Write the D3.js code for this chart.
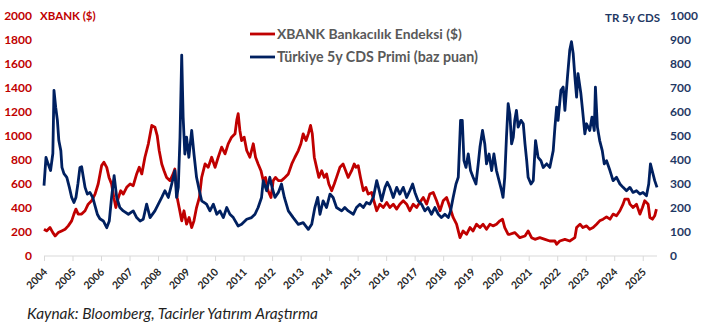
<!DOCTYPE html>
<html lang="tr">
<head>
<meta charset="utf-8">
<script src="https://cdn.jsdelivr.net/npm/d3@7"></script>
<style>
  body { margin: 0; background: #fff; }
  svg { display: block; }
</style>
</head>
<body>
<svg id="chart" width="701" height="330"></svg>
<script>
// XBANK banking index in USD (left axis), dates as decimal years
const xbankDates = [
  2004.00, 2004.09, 2004.21, 2004.31, 2004.39, 2004.50, 2004.62, 2004.74, 2004.85, 2004.97,
  2005.05, 2005.12, 2005.20, 2005.32, 2005.44, 2005.55, 2005.67, 2005.79, 2005.90, 2006.02,
  2006.10, 2006.20, 2006.28, 2006.37, 2006.45, 2006.52, 2006.61, 2006.69, 2006.78, 2006.90,
  2007.02, 2007.13, 2007.25, 2007.34, 2007.43, 2007.54, 2007.66, 2007.78, 2007.89, 2007.97,
  2008.04, 2008.13, 2008.21, 2008.30, 2008.42, 2008.53, 2008.59, 2008.67, 2008.74, 2008.83,
  2008.91, 2009.00, 2009.09, 2009.18, 2009.26, 2009.35, 2009.45, 2009.53, 2009.65, 2009.76,
  2009.88, 2010.00, 2010.11, 2010.23, 2010.35, 2010.46, 2010.58, 2010.70, 2010.76, 2010.81,
  2010.87, 2010.93, 2011.02, 2011.11, 2011.22, 2011.34, 2011.42, 2011.51, 2011.61, 2011.69,
  2011.77, 2011.86, 2011.96, 2012.04, 2012.12, 2012.22, 2012.33, 2012.45, 2012.57, 2012.69,
  2012.80, 2012.92, 2013.01, 2013.09, 2013.19, 2013.27, 2013.35, 2013.41, 2013.48, 2013.56,
  2013.64, 2013.74, 2013.83, 2013.91, 2013.99, 2014.09, 2014.18, 2014.26, 2014.38, 2014.49,
  2014.58, 2014.67, 2014.79, 2014.88, 2014.94, 2015.02, 2015.10, 2015.20, 2015.29, 2015.37,
  2015.49, 2015.57, 2015.67, 2015.78, 2015.90, 2016.02, 2016.13, 2016.25, 2016.37, 2016.48,
  2016.60, 2016.72, 2016.83, 2016.95, 2017.07, 2017.18, 2017.30, 2017.42, 2017.53, 2017.65,
  2017.77, 2017.89, 2018.00, 2018.12, 2018.24, 2018.35, 2018.47, 2018.59, 2018.70, 2018.82,
  2018.94, 2019.05, 2019.17, 2019.29, 2019.40, 2019.52, 2019.64, 2019.75, 2019.87, 2019.99,
  2020.08, 2020.16, 2020.28, 2020.34, 2020.51, 2020.69, 2020.87, 2020.98, 2021.10, 2021.22,
  2021.39, 2021.57, 2021.74, 2021.92, 2021.98, 2022.09, 2022.27, 2022.44, 2022.62, 2022.68,
  2022.80, 2022.90, 2023.03, 2023.14, 2023.26, 2023.38, 2023.49, 2023.61, 2023.73, 2023.85,
  2023.96, 2024.08, 2024.20, 2024.31, 2024.37, 2024.49, 2024.55, 2024.66, 2024.78, 2024.90,
  2024.99, 2025.07, 2025.19, 2025.25, 2025.34, 2025.42, 2025.48
];
const xbankValues = [
  223, 209, 237, 195, 167, 195, 209, 223, 251, 293,
  349, 391, 349, 349, 377, 432, 460, 516, 600, 753,
  781, 739, 655, 600, 488, 404, 488, 544, 516, 572,
  600, 586, 684, 739, 684, 823, 935, 1088, 1074, 1004,
  879, 767, 711, 655, 628, 684, 725, 488, 404, 293,
  377, 265, 321, 237, 293, 404, 488, 655, 767, 739,
  823, 739, 823, 907, 851, 935, 990, 1018, 1130, 1186,
  1046, 962, 990, 879, 823, 935, 823, 767, 711, 628,
  655, 544, 488, 628, 655, 628, 628, 655, 684, 767,
  823, 879, 935, 1018, 962, 1018, 1088, 1018, 823, 739,
  655, 711, 655, 684, 600, 544, 600, 655, 739, 767,
  711, 655, 711, 767, 739, 753, 655, 544, 572, 516,
  530, 460, 377, 432, 404, 446, 404, 432, 391, 432,
  460, 432, 377, 432, 404, 446, 488, 432, 516, 530,
  460, 377, 460, 488, 404, 321, 265, 153, 209, 181,
  237, 209, 265, 237, 265, 223, 265, 251, 265, 293,
  307, 237, 181, 181, 195, 153, 167, 209, 153, 139,
  153, 139, 125, 125, 98, 125, 139, 125, 153, 237,
  265, 237, 251, 223, 237, 265, 293, 307, 326, 307,
  349, 335, 377, 432, 474, 474, 432, 404, 432, 349,
  404, 460, 432, 321, 307, 335, 391
];

// Turkey 5y CDS premium in basis points (right axis)
const cdsDates = [
  2004.00, 2004.07, 2004.14, 2004.23, 2004.31, 2004.35, 2004.41, 2004.47, 2004.52, 2004.59,
  2004.63, 2004.70, 2004.80, 2004.89, 2004.97, 2005.05, 2005.12, 2005.19, 2005.26, 2005.32,
  2005.38, 2005.44, 2005.52, 2005.61, 2005.71, 2005.79, 2005.87, 2005.96, 2006.08, 2006.20,
  2006.29, 2006.37, 2006.46, 2006.55, 2006.66, 2006.78, 2006.96, 2007.13, 2007.25, 2007.37,
  2007.48, 2007.60, 2007.72, 2007.89, 2008.01, 2008.13, 2008.24, 2008.36, 2008.48, 2008.59,
  2008.65, 2008.71, 2008.77, 2008.83, 2008.88, 2008.94, 2009.00, 2009.08, 2009.18, 2009.26,
  2009.35, 2009.45, 2009.53, 2009.70, 2009.82, 2009.94, 2010.06, 2010.17, 2010.29, 2010.41,
  2010.52, 2010.64, 2010.81, 2010.93, 2011.11, 2011.28, 2011.40, 2011.51, 2011.63, 2011.69,
  2011.81, 2011.92, 2012.00, 2012.10, 2012.22, 2012.33, 2012.43, 2012.57, 2012.74, 2012.92,
  2013.09, 2013.27, 2013.39, 2013.50, 2013.60, 2013.68, 2013.79, 2013.91, 2014.03, 2014.14,
  2014.26, 2014.44, 2014.55, 2014.67, 2014.85, 2014.96, 2015.08, 2015.20, 2015.31, 2015.43,
  2015.55, 2015.67, 2015.76, 2015.84, 2015.96, 2016.04, 2016.13, 2016.25, 2016.37, 2016.48,
  2016.60, 2016.72, 2016.83, 2016.93, 2017.01, 2017.12, 2017.24, 2017.36, 2017.47, 2017.59,
  2017.71, 2017.83, 2017.94, 2018.06, 2018.18, 2018.26, 2018.35, 2018.45, 2018.53, 2018.61,
  2018.67, 2018.73, 2018.80, 2018.88, 2018.96, 2019.05, 2019.15, 2019.23, 2019.29, 2019.38,
  2019.46, 2019.52, 2019.61, 2019.70, 2019.78, 2019.87, 2019.96, 2020.05, 2020.10, 2020.16,
  2020.22, 2020.28, 2020.34, 2020.40, 2020.46, 2020.51, 2020.57, 2020.63, 2020.73, 2020.81,
  2020.87, 2020.93, 2020.98, 2021.08, 2021.16, 2021.24, 2021.33, 2021.43, 2021.51, 2021.63,
  2021.74, 2021.86, 2021.92, 2021.98, 2022.03, 2022.13, 2022.21, 2022.27, 2022.36, 2022.44,
  2022.50, 2022.56, 2022.62, 2022.68, 2022.73, 2022.83, 2022.89, 2022.97, 2023.03, 2023.14,
  2023.22, 2023.30, 2023.34, 2023.41, 2023.49, 2023.58, 2023.65, 2023.73, 2023.85, 2023.96,
  2024.08, 2024.20, 2024.31, 2024.43, 2024.55, 2024.66, 2024.78, 2024.90, 2025.01, 2025.13,
  2025.21, 2025.27, 2025.33, 2025.42, 2025.50
];
const cdsValues = [
  293, 411, 385, 356, 427, 690, 620, 565, 481, 439,
  369, 343, 328, 286, 244, 223, 244, 301, 369, 372,
  328, 286, 258, 265, 244, 209, 174, 155, 146, 118,
  146, 244, 335, 244, 202, 188, 174, 188, 160, 146,
  153, 216, 160, 188, 216, 244, 272, 244, 300, 356,
  244, 286, 495, 837, 579, 425, 495, 411, 523, 425,
  328, 272, 230, 216, 188, 216, 174, 188, 160, 202,
  174, 160, 125, 132, 153, 160, 174, 202, 244, 314,
  272, 328, 286, 244, 265, 300, 244, 188, 160, 132,
  139, 111, 132, 202, 244, 174, 230, 202, 258, 244,
  202, 188, 202, 188, 174, 202, 216, 202, 223, 216,
  244, 314, 272, 230, 286, 307, 286, 244, 286, 258,
  286, 244, 272, 300, 265, 230, 216, 188, 202, 174,
  202, 174, 160, 174, 160, 188, 244, 300, 328, 565,
  565, 397, 369, 425, 356, 328, 300, 384, 453, 523,
  467, 384, 425, 356, 425, 356, 314, 272, 244, 328,
  495, 635, 590, 467, 495, 565, 607, 537, 565, 551,
  467, 397, 328, 300, 314, 481, 411, 397, 369, 384,
  369, 439, 537, 620, 565, 690, 704, 607, 746, 858,
  893, 844, 746, 662, 760, 677, 607, 509, 551, 523,
  579, 523, 704, 537, 481, 439, 384, 397, 356, 314,
  328, 300, 286, 272, 286, 265, 272, 258, 265, 251,
  300, 384, 356, 314, 286
];

const yearTicks = d3.range(2004, 2026);
const leftTicks = d3.range(0, 2001, 200);
const rightTicks = d3.range(0, 1001, 100);

const legendLabels = ["XBANK Bankacılık Endeksi ($)", "Türkiye 5y CDS Primi (baz puan)"];
const leftTitle = "XBANK ($)";
const rightTitle = "TR 5y CDS";
const sourceNote = "Kaynak: Bloomberg, Tacirler Yatırım Araştırma";

const RED = "#c00000";
const NAVY = "#002060";
const NAVY_TEXT = "#1f3864";
const FONT = "Lato, 'Open Sans', sans-serif";

const svg = d3.select("#chart");

// Scale a text element's font size so that it spans the given width
function fitWidth(sel, width) {
  const node = sel.node();
  const size = parseFloat(sel.attr("font-size"));
  const w = node.getComputedTextLength();
  if (w > 0) sel.attr("font-size", (size * width / w).toFixed(2));
  return sel;
}

const x = d3.scaleLinear().domain([2004, 2025.5]).range([44, 657]);
const yLeft = d3.scaleLinear().domain([0, 2000]).range([256, 16]);
const yRight = d3.scaleLinear().domain([0, 1000]).range([256, 16]);

// Horizontal date axis with yearly ticks
const xAxis = d3.axisBottom(x).tickValues(yearTicks).tickSize(5).tickFormat(d3.format("d"));
const gx = svg.append("g").attr("transform", "translate(0,256)").call(xAxis);
gx.select(".domain").attr("stroke", "#d9d9d9").attr("stroke-width", 1)
  .attr("d", `M${x(2004)},0H${x(2025.5)}`);
gx.selectAll(".tick line").attr("stroke", "#d9d9d9");
gx.selectAll(".tick text")
  .attr("font-family", FONT).attr("font-size", 10.5).attr("font-weight", 700)
  .attr("fill", "#262626")
  .attr("text-anchor", "end")
  .attr("transform", "translate(1,14) rotate(-45)")
  .attr("x", 0).attr("y", 0).attr("dy", "0.35em");

// Left value axis (XBANK)
const gl = svg.append("g").attr("transform", "translate(32,0)")
  .call(d3.axisLeft(yLeft).tickValues(leftTicks).tickSize(0).tickPadding(0).tickFormat(d3.format("d")));
gl.select(".domain").remove();
gl.selectAll(".tick text")
  .attr("font-family", FONT).attr("font-size", 12).attr("font-weight", 700)
  .attr("fill", RED);

// Right value axis (CDS)
const gr = svg.append("g").attr("transform", "translate(670,0)")
  .call(d3.axisRight(yRight).tickValues(rightTicks).tickSize(0).tickPadding(0).tickFormat(d3.format("d")));
gr.select(".domain").remove();
gr.selectAll(".tick text")
  .attr("font-family", FONT).attr("font-size", 12).attr("font-weight", 700)
  .attr("fill", NAVY_TEXT);

// Axis titles
svg.append("text").attr("x", 40).attr("y", 20)
  .attr("font-family", FONT).attr("font-size", 11.5).attr("font-weight", 700)
  .attr("fill", RED).text(leftTitle);
svg.append("text").attr("x", 660).attr("y", 22).attr("text-anchor", "end")
  .attr("font-family", FONT).attr("font-size", 11.5).attr("font-weight", 700)
  .attr("fill", NAVY_TEXT).text(rightTitle);

// Series lines
const xbankData = xbankDates.map((d, i) => [d, xbankValues[i]]);
const cdsData = cdsDates.map((d, i) => [d, cdsValues[i]]);

svg.append("path").datum(xbankData)
  .attr("fill", "none").attr("stroke", RED).attr("stroke-width", 2.8)
  .attr("stroke-linejoin", "round")
  .attr("d", d3.line().x(d => x(d[0])).y(d => yLeft(d[1])));

svg.append("path").datum(cdsData)
  .attr("fill", "none").attr("stroke", NAVY).attr("stroke-width", 2.8)
  .attr("stroke-linejoin", "round")
  .attr("d", d3.line().x(d => x(d[0])).y(d => yRight(d[1])));

// Legend
const legend = svg.append("g");
const legendWidths = [185, 201];
[RED, NAVY].forEach((c, i) => {
  const yy = 34 + i * 23;
  legend.append("line").attr("x1", 250).attr("x2", 275).attr("y1", yy).attr("y2", yy)
    .attr("stroke", c).attr("stroke-width", 2.8);
  const t = legend.append("text").attr("x", 277).attr("y", yy).attr("dy", "0.35em")
    .attr("font-family", FONT).attr("font-size", 12.5).attr("font-weight", 700)
    .attr("fill", "#595959").text(legendLabels[i]);
  fitWidth(t, legendWidths[i]);
});

// Source note
const src = svg.append("text").attr("x", 27).attr("y", 319)
  .attr("font-family", FONT).attr("font-size", 14).attr("font-style", "italic")
  .attr("fill", "#1f1f1f").text(sourceNote);
fitWidth(src, 291);
</script>
</body>
</html>
